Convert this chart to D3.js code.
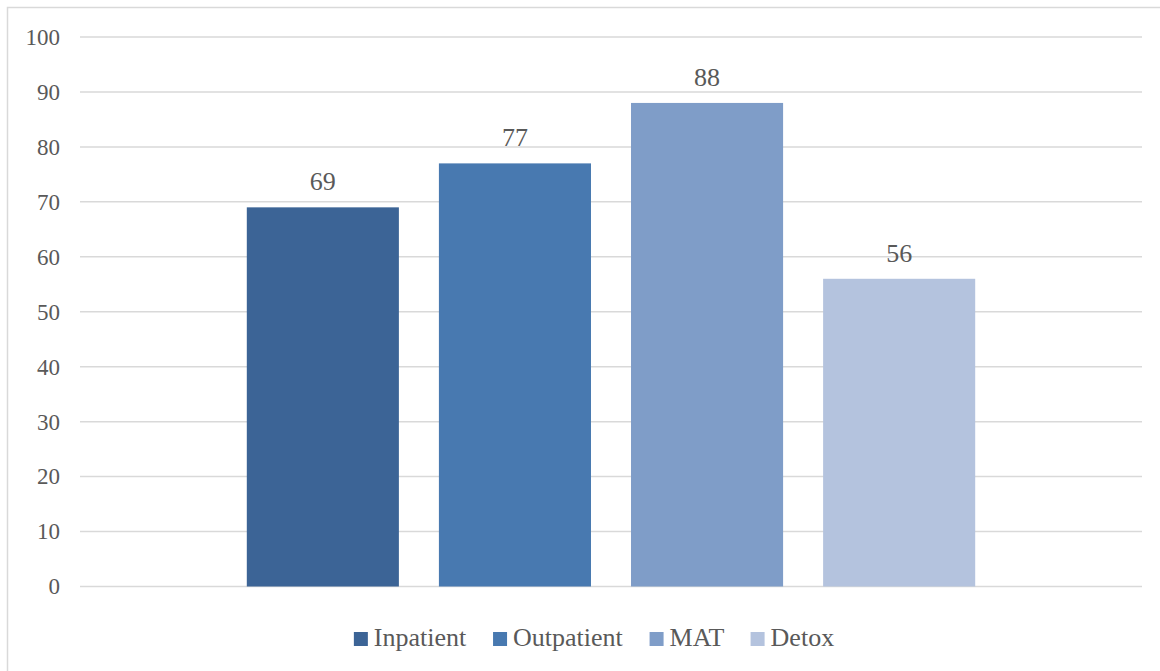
<!DOCTYPE html>
<html>
<head>
<meta charset="utf-8">
<script src="https://cdn.jsdelivr.net/npm/d3@7"></script>
<style>
  html, body { margin: 0; padding: 0; background: #fff; }
  svg { display: block; }
</style>
</head>
<body>
<svg id="chart" width="1160" height="671"></svg>
<script>
// Treatment settings and their values
const categories = ["Total"];
const seriesNames = ["Inpatient", "Outpatient", "MAT", "Detox"];
const seriesValues = [69, 77, 88, 56];
const seriesColors = ["#3c6496", "#4879b0", "#7f9dc8", "#b4c3de"];
const yTicks = [0, 10, 20, 30, 40, 50, 60, 70, 80, 90, 100];

const FONT = "'Times New Roman', 'Liberation Serif', Tinos, 'DejaVu Serif', serif";
const W = 1160, H = 671;
const plot = { left: 80, right: 1142, top: 37, bottom: 586.5 };

const svg = d3.select("#chart")
  .attr("font-family", FONT)
  .style("font-family", FONT);

// outer chart frame
svg.append("rect")
  .attr("x", 7.5).attr("y", 7.5)
  .attr("width", W + 20).attr("height", H + 20)
  .attr("fill", "none").attr("stroke", "#d9d9d9").attr("stroke-width", 1.5);

const y = d3.scaleLinear().domain([0, 100]).range([plot.bottom, plot.top]);

const x0 = d3.scaleBand().domain(categories)
  .range([plot.left, plot.right]).paddingOuter(0.229).paddingInner(0);
const x1 = d3.scaleBand().domain(seriesNames)
  .range([0, x0.bandwidth()]).paddingInner(40 / 192).paddingOuter(0);

// gridlines
svg.append("g").selectAll("line").data(yTicks).join("line")
  .attr("x1", plot.left).attr("x2", plot.right)
  .attr("y1", d => y(d)).attr("y2", d => y(d))
  .attr("stroke", "#d9d9d9").attr("stroke-width", 1.5);

// y axis labels
const yAxis = d3.axisLeft(y).tickValues(yTicks).tickSize(0).tickPadding(0);
const yg = svg.append("g").attr("transform", `translate(60,0)`).call(yAxis)
  .attr("font-family", FONT).style("font-family", FONT);
yg.select(".domain").remove();
yg.selectAll("text")
  .attr("font-size", 23)
  .style("font-family", FONT)
  .attr("fill", "#595959");

// bars
const rows = seriesNames.map((name, i) => ({ name, value: seriesValues[i], color: seriesColors[i] }));
const g = svg.append("g").attr("transform", `translate(${x0(categories[0])},0)`);
g.selectAll("rect").data(rows).join("rect")
  .attr("x", d => x1(d.name))
  .attr("width", x1.bandwidth())
  .attr("y", d => y(d.value))
  .attr("height", d => y(0) - y(d.value))
  .attr("fill", d => d.color);

// value labels
g.selectAll("text.val").data(rows).join("text")
  .attr("class", "val")
  .attr("x", d => x1(d.name) + x1.bandwidth() / 2)
  .attr("y", d => y(d.value) - 17)
  .attr("text-anchor", "middle")
  .attr("font-size", 26)
  .attr("fill", "#595959")
  .style("font-family", FONT)
  .text(d => d.value);

// legend, centred under the whole chart
const legend = svg.append("g");
const items = legend.selectAll("g").data(rows).join("g");
items.append("rect")
  .attr("width", 14).attr("height", 14)
  .attr("y", 632)
  .attr("fill", d => d.color);
items.append("text")
  .attr("x", 20).attr("y", 646)
  .attr("font-size", 26)
  .attr("fill", "#595959")
  .style("font-family", FONT)
  .text(d => d.name);
let widths = [];
items.each(function () { widths.push(this.getBBox().width); });
const gap = 26;
const total = d3.sum(widths) + gap * (widths.length - 1);
let cx = 594 - total / 2;
items.attr("transform", (d, i) => {
  const t = `translate(${cx},0)`;
  cx += widths[i] + gap;
  return t;
});
</script>
</body>
</html>
